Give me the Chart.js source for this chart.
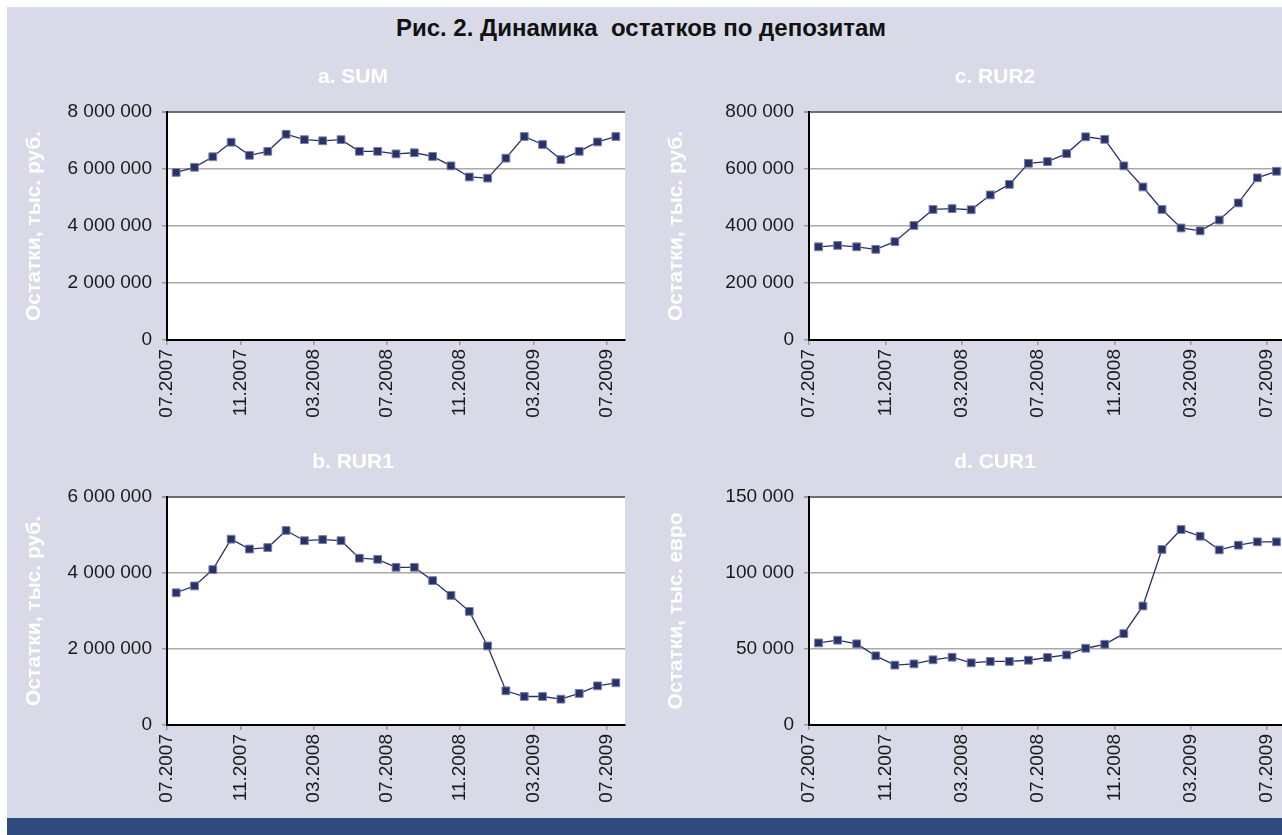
<!DOCTYPE html>
<html>
<head>
<meta charset="utf-8">
<script src="https://cdn.jsdelivr.net/npm/chart.js@4.4.1/dist/chart.umd.min.js"></script>
<style>
body { margin: 0; width: 1282px; height: 835px; overflow: hidden; background: #fff; position: relative; }
#bg { position: absolute; left: 7px; top: 7px; right: 0; bottom: 0; background: #d8dae8; }
#band { position: absolute; left: 7px; right: 0; top: 818px; bottom: 0; background: #2e4a7e; }
#title { position: absolute; left: 0; width: 1282px; top: 14px; line-height: 28px; text-align: center;
  font: bold 24px "Liberation Sans", Arial, sans-serif; color: #111; }
canvas { position: absolute; }
</style>
</head>
<body>
<div id="bg"></div>
<div id="title">Рис. 2. Динамика&nbsp;&nbsp;остатков по депозитам</div>
<canvas id="sum" width="692" height="370" style="left:7px;top:60px"></canvas>
<canvas id="rur2" width="692" height="370" style="left:649px;top:60px"></canvas>
<canvas id="rur1" width="692" height="370" style="left:7px;top:445px"></canvas>
<canvas id="cur1" width="692" height="370" style="left:649px;top:445px"></canvas>
<div id="band"></div>
<script>
// months 07.2007 .. 07.2009
const months = ['07.2007','08.2007','09.2007','10.2007','11.2007','12.2007',
    '01.2008','02.2008','03.2008','04.2008','05.2008','06.2008','07.2008',
    '08.2008','09.2008','10.2008','11.2008','12.2008','01.2009','02.2009',
    '03.2009','04.2009','05.2009','06.2009','07.2009'];
const tickLabels = ['07.2007','11.2007','03.2008','07.2008','11.2008','03.2009','07.2009'];

const sumValues = [5880000, 6060000, 6430000, 6940000, 6480000, 6620000, 7220000, 7030000,
    6990000, 7030000, 6620000, 6620000, 6530000, 6570000, 6440000, 6110000, 5720000,
    5680000, 6380000, 7140000, 6860000, 6330000, 6620000, 6950000, 7140000];
const rur2Values = [327000, 332000, 327000, 318000, 345000, 402000, 458000, 461000, 457000,
    509000, 546000, 620000, 626000, 654000, 713000, 704000, 611000, 537000, 458000,
    393000, 383000, 421000, 481000, 569000, 592000];
const rur1Values = [3480000, 3660000, 4090000, 4890000, 4630000, 4670000, 5120000, 4850000,
    4880000, 4850000, 4390000, 4360000, 4150000, 4150000, 3800000, 3410000, 2990000,
    2080000, 900000, 750000, 750000, 680000, 830000, 1030000, 1110000];
const cur1Values = [54000, 55800, 53400, 45500, 39400, 40200, 42900, 44600, 40900, 41800,
    41800, 42600, 44400, 46100, 50500, 53100, 60100, 78300, 115500, 128600, 124200,
    115200, 118300, 120500, 120500];

const navy = '#283269';
const titleFont = {family: "'Liberation Sans', Arial, sans-serif", weight: 'bold', size: 21};
const tickFont = {family: "'Liberation Sans', Arial, sans-serif", size: 19};

function fmt(v) {
    return String(v).replace(/\B(?=(\d{3})+(?!\d))/g, ' ');
}

function makePanel(id, title, yTitle, values, yMax, yStep, rightGap) {
    new Chart(document.getElementById(id), {
        type: 'line',
        data: {
            datasets: [{
                data: values.map((v, i) => ({x: i + 0.5, y: v})),
                borderColor: navy,
                borderWidth: 1.3,
                pointStyle: 'rect',
                pointRadius: 5.5,
                pointBackgroundColor: navy,
                pointBorderColor: '#7a7fa3',
                pointBorderWidth: 1,
                tension: 0
            }]
        },
        options: {
            responsive: false,
            animation: false,
            layout: {padding: 0},
            plugins: {
                legend: {display: false},
                tooltip: {enabled: false},
                title: {
                    display: true,
                    text: title,
                    color: '#ffffff',
                    font: titleFont,
                    padding: {top: 4.4, bottom: 22.4}
                }
            },
            scales: {
                x: {
                    type: 'linear',
                    min: 0,
                    max: months.length,
                    afterBuildTicks: axis => {
                        axis.ticks = tickLabels.map(l => ({value: months.indexOf(l)}));
                    },
                    afterFit: axis => { axis.height = 90; },
                    border: {color: '#000', width: 2},
                    grid: {
                        drawOnChartArea: false,
                        drawTicks: true,
                        tickLength: 5,
                        tickColor: '#9a9a9a',
                        lineWidth: 1.5
                    },
                    ticks: {
                        autoSkip: false,
                        minRotation: 90,
                        maxRotation: 90,
                        padding: 4,
                        color: '#1a1a1a',
                        font: tickFont,
                        callback: v => months[v]
                    }
                },
                y: {
                    min: 0,
                    max: yMax,
                    afterFit: axis => { axis.width = 160; },
                    border: {color: '#000', width: 2},
                    grid: {
                        color: c => c.tick && c.tick.value === yMax ? '#6d6d6d' : '#a9a9a9',
                        lineWidth: c => c.tick && c.tick.value === yMax ? 2 : 1.5,
                        tickLength: 5,
                        tickColor: '#9a9a9a'
                    },
                    ticks: {
                        stepSize: yStep,
                        padding: 10,
                        color: '#1a1a1a',
                        font: tickFont,
                        callback: v => fmt(v)
                    },
                    title: {
                        display: true,
                        text: yTitle,
                        color: '#ffffff',
                        font: titleFont,
                        padding: {top: 14.4, bottom: 0}
                    }
                },
                // empty right-hand box, keeps the panel title centred on the whole panel
                gap: {
                    position: 'right',
                    min: 0,
                    max: yMax,
                    afterFit: axis => { axis.width = rightGap; },
                    grid: {display: false},
                    border: {display: false},
                    ticks: {display: false}
                }
            }
        },
        plugins: [{
            id: 'plotBg',
            beforeDraw: chart => {
                const a = chart.chartArea;
                const ctx = chart.ctx;
                ctx.save();
                ctx.fillStyle = '#ffffff';
                ctx.fillRect(a.left, a.top, a.right - a.left, a.bottom - a.top);
                ctx.restore();
            }
        }]
    });
}

makePanel('sum', 'a. SUM', 'Остатки, тыс. руб.', sumValues, 8000000, 2000000, 74);
makePanel('rur2', 'c. RUR2', 'Остатки, тыс. руб.', rur2Values, 800000, 200000, 55);
makePanel('rur1', 'b. RUR1', 'Остатки, тыс. руб.', rur1Values, 6000000, 2000000, 74);
makePanel('cur1', 'd. CUR1', 'Остатки, тыс. евро', cur1Values, 150000, 50000, 55);
</script>
</body>
</html>
